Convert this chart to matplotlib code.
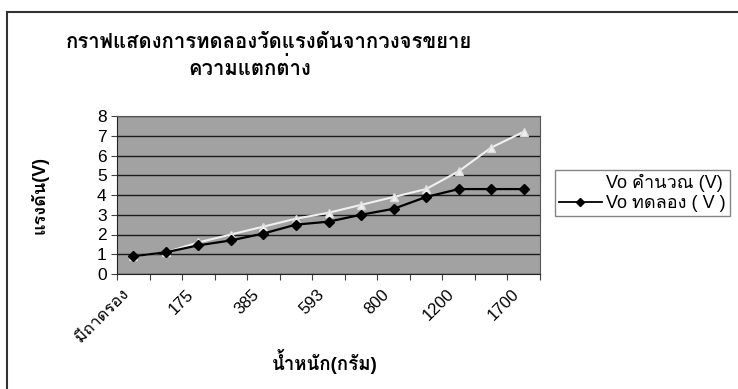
import matplotlib
matplotlib.use("Agg")
import matplotlib.pyplot as plt
import matplotlib.transforms as mtransforms
from matplotlib.patches import Rectangle
from matplotlib.lines import Line2D

plt.rcParams['font.family'] = ['Liberation Sans', 'Loma', 'DejaVu Sans']

# weight categories (only every other label is printed on the axis)
weights = ['มีถาดรอง', '70', '175', '280', '385', '490', '593',
           '695', '800', '1000', '1200', '1450', '1700']
vo_calc = [0.9, 1.1, 1.6, 2.0, 2.4, 2.8, 3.1, 3.5, 3.9, 4.3, 5.2, 6.4, 7.2]
vo_test = [0.9, 1.1, 1.45, 1.7, 2.05, 2.5, 2.65, 3.0, 3.3, 3.9, 4.3, 4.3, 4.3]

W, H = 738, 389
fig = plt.figure(figsize=(W / 100, H / 100), dpi=100)

# chart area frame
fig.patches.append(Rectangle((7 / W, -0.1), 1.2, 0.1 + (1 - 12 / H),
                             transform=fig.transFigure, fill=False,
                             edgecolor='#333333', lw=1.5))

ax = fig.add_axes([117 / W, 1 - 274 / H, (540 - 117) / W, (274 - 116) / H])
ax.set_facecolor('#a2a2a2')

x = list(range(len(weights)))
ax.plot(x, vo_calc, color='#f0f0f0', lw=1.5, marker='^', ms=6,
        mfc='#f0f0f0', mec='#dddddd', label='Vo คำนวณ (V)')
ax.plot(x, vo_test, color='black', lw=1.6, marker='D', ms=5.5,
        label='Vo ทดลอง ( V )')

ax.set_xlim(-0.5, len(weights) - 0.5)
ax.set_ylim(0, 8)
ax.set_yticks(range(0, 9))
ax.yaxis.grid(True, color='#1a1a1a', lw=1)
ax.set_axisbelow(True)

ax.set_xticks([i - 0.5 for i in range(len(weights) + 1)], minor=False)
ax.set_xticklabels([])
ax.set_xticks(x[::2], minor=True)
ax.set_xticklabels(weights[::2], minor=True, rotation=45, ha='right',
                   rotation_mode='anchor', fontsize=12)
ax.tick_params(axis='x', which='minor', length=0, pad=9)
ax.tick_params(axis='x', which='major', length=4, direction='out', color='#444444')
ax.tick_params(axis='y', length=4, direction='out', labelsize=12.5, color='#444444')
# nudge the slanted labels left so their ends sit just before each category
shift = mtransforms.ScaledTranslation(-12 / 100, 0, fig.dpi_scale_trans)
for lab in ax.get_xticklabels(minor=True):
    lab.set_transform(lab.get_transform() + shift)

for side in ('top', 'right'):
    ax.spines[side].set_color('#555555')
for side in ('left', 'bottom'):
    ax.spines[side].set_color('#222222')

fig.text(269 / W, 1 - 43 / H, 'กราฟแสดงการทดลองวัดแรงดันจากวงจรขยาย',
         ha='center', va='center', fontsize=14.6, fontweight='bold')
fig.text(250 / W, 1 - 68 / H, 'ความแตกต่าง',
         ha='center', va='center', fontsize=14.6, fontweight='bold')
fig.text(40 / W, 1 - 195 / H, 'แรงดัน(V)', rotation=90,
         ha='center', va='center', fontsize=13, fontweight='bold')
fig.text(325 / W, 1 - 362 / H, 'น้ำหนัก(กรัม)',
         ha='center', va='center', fontsize=13.5, fontweight='bold')

handles = [Line2D([], [], color='white', marker='^', mfc='white', mec='white'),
           Line2D([], [], color='black', marker='D', ms=4.5, lw=1.3)]
leg = fig.legend(handles, ['Vo คำนวณ (V)', 'Vo ทดลอง ( V )'],
                 loc='upper left', bbox_to_anchor=(555 / W, 1 - 170 / H),
                 fontsize=13, frameon=True, fancybox=False, handlelength=2.4,
                 borderaxespad=0, borderpad=0.2, labelspacing=0.2,
                 handletextpad=0.25)
leg.get_frame().set_edgecolor('#666666')
leg.get_frame().set_linewidth(1)

fig.savefig('out.png', dpi=100)
